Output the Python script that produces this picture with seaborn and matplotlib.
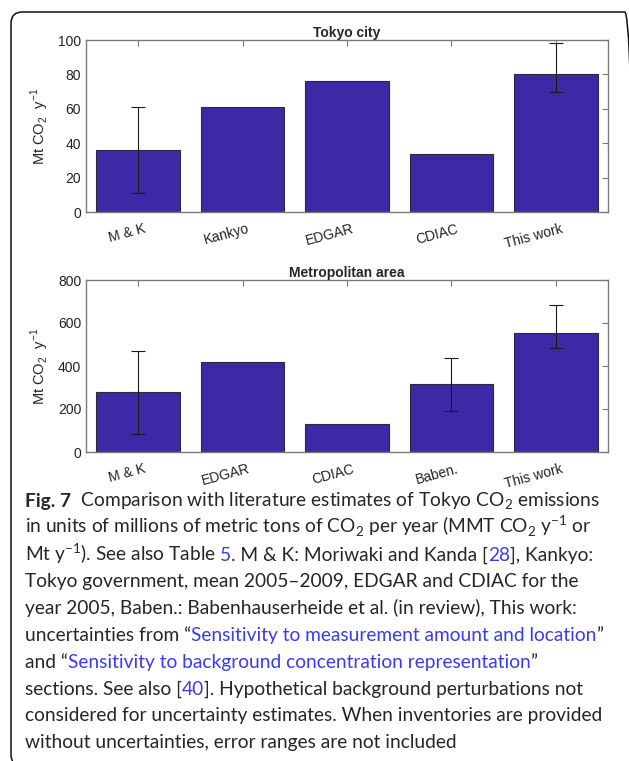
import matplotlib
matplotlib.use("Agg")
import matplotlib.pyplot as plt
import matplotlib.transforms as mtransforms
from matplotlib.patches import FancyBboxPatch
import seaborn as sns
import pandas as pd

# ---------------- data ----------------
city_sources = ["M & K", "Kankyo", "EDGAR", "CDIAC", "This work"]
city_values = [36, 61, 76, 34, 80]
city_err_low = [11, None, None, None, 69.5]
city_err_high = [61, None, None, None, 98.5]

metro_sources = ["M & K", "EDGAR", "CDIAC", "Baben.", "This work"]
metro_values = [278, 420, 130, 315, 555]
metro_err_low = [85, None, None, 193, 482]
metro_err_high = [470, None, None, 437, 682]

city_title = "Tokyo city"
metro_title = "Metropolitan area"
ylabel = r"Mt CO$_\mathregular{2}$  y$^\mathregular{-1}$"
city_yticks = [0, 20, 40, 60, 80, 100]
metro_yticks = [0, 200, 400, 600, 800]

BLUE = "#3b3bef"
caption_lines = [
    [("Fig. 7", "k", "bold"), ("  Comparison with literature estimates of Tokyo CO$_\\mathregular{2}$ emissions", "k", "normal")],
    [("in units of millions of metric tons of CO$_\\mathregular{2}$ per year (MMT CO$_\\mathregular{2}$ y$^\\mathregular{-1}$ or", "k", "normal")],
    [("Mt y$^\\mathregular{-1}$). See also Table ", "k", "normal"), ("5", BLUE, "normal"),
     (". M & K: Moriwaki and Kanda [", "k", "normal"), ("28", BLUE, "normal"), ("], Kankyo:", "k", "normal")],
    [("Tokyo government, mean 2005\u20132009, EDGAR and CDIAC for the", "k", "normal")],
    [("year 2005, Baben.: Babenhauserheide et al. (in review), This work:", "k", "normal")],
    [("uncertainties from \u201c", "k", "normal"), ("Sensitivity to measurement amount and location", BLUE, "normal"), ("\u201d", "k", "normal")],
    [("and \u201c", "k", "normal"), ("Sensitivity to background concentration representation", BLUE, "normal"), ("\u201d", "k", "normal")],
    [("sections. See also [", "k", "normal"), ("40", BLUE, "normal"), ("]. Hypothetical background perturbations not", "k", "normal")],
    [("considered for uncertainty estimates. When inventories are provided", "k", "normal")],
    [("without uncertainties, error ranges are not included", "k", "normal")],
]

# ---------------- style ----------------
sns.set_theme(style="white")
plt.rcParams["font.family"] = ["Liberation Sans", "DejaVu Sans"]

BAR = "#3b29a5"
W, H = 629, 761
fig = plt.figure(figsize=(W / 100, H / 100), dpi=100)
fig.patch.set_facecolor("white")


def px_axes(left, top, right, bottom):
    return fig.add_axes([left / W, 1 - bottom / H, (right - left) / W, (bottom - top) / H])


def draw_panel(ax, cats, vals, lo, hi, title, yticks):
    df = pd.DataFrame({"source": cats, "value": vals})
    sns.barplot(data=df, x="source", y="value", color=BAR, saturation=1,
                edgecolor="#2a2a3a", linewidth=0.8, width=0.8, ax=ax)
    xs, ys, el, eh = [], [], [], []
    for i, (v, l, h) in enumerate(zip(vals, lo, hi)):
        if l is None:
            continue
        xs.append(i)
        ys.append(v)
        el.append(v - l)
        eh.append(h - v)
    ax.errorbar(xs, ys, yerr=[el, eh], fmt="none", ecolor="#1a1a1a",
                elinewidth=0.8, capsize=5, capthick=0.8)
    ax.set_xlim(-0.5, len(cats) - 0.5)
    ax.set_ylim(yticks[0], yticks[-1])
    ax.set_yticks(yticks)
    ax.set_xlabel("")
    ax.set_ylabel(ylabel, fontsize=10.5, labelpad=5)
    ax.set_title(title, fontsize=10, fontweight="bold", pad=2)
    for s in ax.spines.values():
        s.set_visible(True)
        s.set_color("#7a7a7a")
        s.set_linewidth(1.0)
    ax.tick_params(axis="both", direction="in", top=True, right=True, length=4,
                   width=0.8, color="#7a7a7a", labelsize=10, labelcolor="#222222")
    ax.tick_params(axis="x", pad=7)
    ax.set_xticks(range(len(cats)))
    ax.set_xticklabels(cats, rotation=15, ha="right", va="top", rotation_mode="anchor")
    off = mtransforms.ScaledTranslation(5 / 100, 0, fig.dpi_scale_trans)
    for lab in ax.get_xticklabels():
        lab.set_transform(lab.get_transform() + off)


ax1 = px_axes(86, 40, 608, 212)
draw_panel(ax1, city_sources, city_values, city_err_low, city_err_high, city_title, city_yticks)
ax2 = px_axes(86, 280, 608, 452)
draw_panel(ax2, metro_sources, metro_values, metro_err_low, metro_err_high, metro_title, metro_yticks)

# ---------------- border ----------------
box = FancyBboxPatch((11 / W, 1 - 766 / H), (636 - 11) / W, (766 - 12) / H,
                     boxstyle="round,pad=0,rounding_size=0.018", transform=fig.transFigure,
                     fill=False, edgecolor="#111111", linewidth=1.1, clip_on=False,
                     mutation_aspect=W / H)
fig.patches.append(box)

# ---------------- caption ----------------
cap_family = ["Lato", "DejaVu Sans"]
renderer = fig.canvas.get_renderer()


def text_width(txt, size, wt):
    # advance width including trailing spaces: measure with a sentinel glyph
    t1 = fig.text(0, 0, txt + "|", fontsize=size, fontweight=wt, family=cap_family)
    t2 = fig.text(0, 0, "|", fontsize=size, fontweight=wt, family=cap_family)
    w = t1.get_window_extent(renderer).width - t2.get_window_extent(renderer).width
    t1.remove()
    t2.remove()
    return w


base_size = 14
w1 = sum(text_width(t, base_size, wt) for t, c, wt in caption_lines[0])
cap_size = base_size * (603 - 25) / w1

x0 = 25
y_first = 507
spacing = 26.8
for li, segs in enumerate(caption_lines):
    x = x0
    ybase = y_first + li * spacing
    for txt, col, wt in segs:
        fig.text(x / W, 1 - ybase / H, txt, fontsize=cap_size, fontweight=wt,
                 family=cap_family, color=col if col != "k" else "#262626",
                 ha="left", va="baseline")
        x += text_width(txt, cap_size, wt)

fig.savefig("out.png", dpi=100, facecolor="white")
